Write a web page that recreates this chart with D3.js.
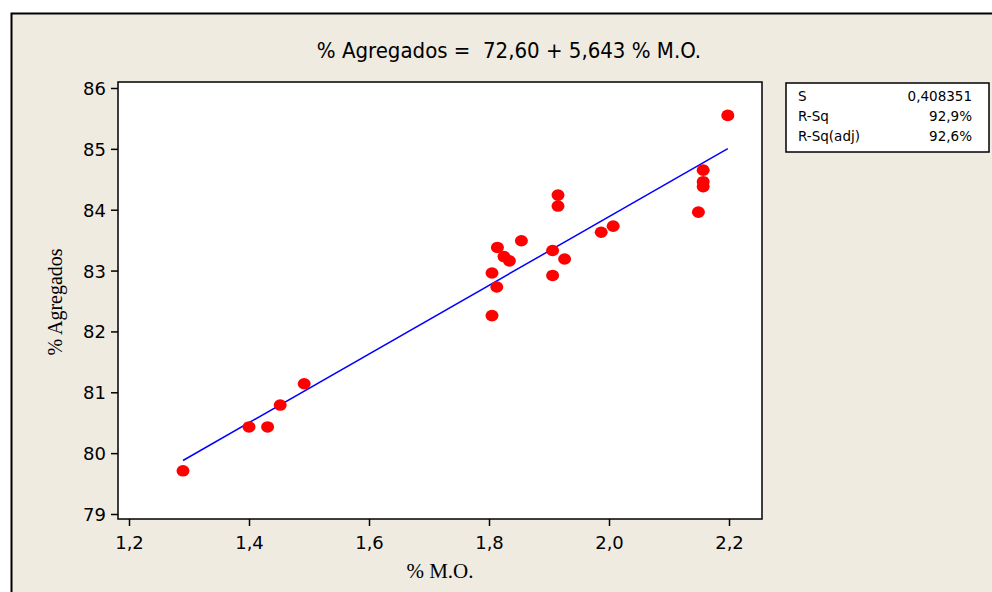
<!DOCTYPE html>
<html>
<head>
<meta charset="utf-8">
<script src="https://cdn.jsdelivr.net/npm/d3@7"></script>
<style>
  body { margin: 0; background: #fff; }
  svg { display: block; }
</style>
</head>
<body>
<div id="draw"></div>
<script>
// % M.O. vs % Agregados
var moValues = [1.290, 1.400, 1.431, 1.452, 1.492, 1.805, 1.805, 1.813, 1.814, 1.825, 1.834, 1.854,
                1.906, 1.906, 1.915, 1.915, 1.926, 1.987, 2.007, 2.149, 2.157, 2.157, 2.157, 2.198];
var agrValues = [79.71, 80.43, 80.43, 80.79, 81.14, 82.26, 82.96, 82.73, 83.38, 83.23, 83.16, 83.49,
                 82.92, 83.33, 84.06, 84.24, 83.19, 83.63, 83.73, 83.96, 84.38, 84.46, 84.65, 85.55];
var xTicks = [1.2, 1.4, 1.6, 1.8, 2.0, 2.2];
var yTicks = [79, 80, 81, 82, 83, 84, 85, 86];
var fitCoef = [72.60, 5.643];
var statLabels = ['S', 'R-Sq', 'R-Sq(adj)'];
var statValues = ['0,408351', '92,9%', '92,6%'];

(function () {
    "use strict";
    var width = 992, height = 592;
    var plot = {left: 118, right: 762, top: 82, bottom: 519};
    var comma = function (v) { return d3.format('.1f')(v).replace('.', ','); };

    var svg = d3.select('#draw').append('svg')
        .attr('width', width).attr('height', height);

    // outer frame
    svg.append('rect')
        .attr('x', 11.5).attr('y', 13.5)
        .attr('width', 1000).attr('height', 600)
        .attr('fill', '#efebe1')
        .attr('stroke', '#000').attr('stroke-width', 2);

    var x = d3.scaleLinear().domain([1.2, 2.2]).range([129, 729]);
    var y = d3.scaleLinear().domain([79, 86]).range([514, 88]);

    // plot area
    svg.append('rect')
        .attr('x', plot.left).attr('y', plot.top)
        .attr('width', plot.right - plot.left).attr('height', plot.bottom - plot.top)
        .attr('fill', '#fff').attr('stroke', '#000').attr('stroke-width', 1.5);

    var xAxis = svg.append('g')
        .attr('transform', 'translate(0,' + plot.bottom + ')')
        .call(d3.axisBottom(x).tickValues(xTicks).tickFormat(comma).tickSize(7).tickSizeOuter(0));
    var yAxis = svg.append('g')
        .attr('transform', 'translate(' + plot.left + ',0)')
        .call(d3.axisLeft(y).tickValues(yTicks).tickFormat(d3.format('d')).tickSize(7).tickSizeOuter(0));

    [xAxis, yAxis].forEach(function (g) {
        g.select('.domain').remove();
        g.selectAll('line').attr('stroke', '#000').attr('stroke-width', 1.5);
        g.selectAll('text')
            .attr('fill', '#000')
            .style('font-family', '"DejaVu Sans", Verdana, sans-serif')
            .style('font-size', '18px');
    });
    xAxis.selectAll('text').attr('dy', '1em').attr('y', 12);
    yAxis.selectAll('text').attr('x', -12).attr('dy', '0.36em');

    // fitted line
    var xr = d3.extent(moValues);
    svg.append('line')
        .attr('x1', x(xr[0])).attr('y1', y(fitCoef[0] + fitCoef[1] * xr[0]))
        .attr('x2', x(xr[1])).attr('y2', y(fitCoef[0] + fitCoef[1] * xr[1]))
        .attr('stroke', '#0000ff').attr('stroke-width', 1.5);

    // points
    svg.append('g').selectAll('ellipse')
        .data(moValues.map(function (d, i) { return [d, agrValues[i]]; }))
        .join('ellipse')
        .attr('cx', function (d) { return x(d[0]); })
        .attr('cy', function (d) { return y(d[1]); })
        .attr('rx', 6.5).attr('ry', 5.8)
        .attr('fill', '#ff0000');

    // title
    svg.append('text')
        .attr('x', 509).attr('y', 58)
        .attr('text-anchor', 'middle')
        .style('font-family', '"DejaVu Sans Condensed", Tahoma, sans-serif')
        .style('font-size', '22px')
        .style('white-space', 'pre')
        .text('% Agregados =  72,60 + 5,643 % M.O.');

    // axis titles
    svg.append('text')
        .attr('x', 440).attr('y', 578)
        .attr('text-anchor', 'middle')
        .style('font-family', '"Liberation Serif", "Times New Roman", serif')
        .style('font-size', '21px')
        .text('% M.O.');
    svg.append('text')
        .attr('transform', 'translate(62,302) rotate(-90)')
        .attr('text-anchor', 'middle')
        .style('font-family', '"Liberation Serif", "Times New Roman", serif')
        .style('font-size', '20px')
        .text('% Agregados');

    // stats box
    var box = svg.append('g').attr('transform', 'translate(786,83)');
    box.append('rect')
        .attr('width', 203).attr('height', 69)
        .attr('fill', '#fff').attr('stroke', '#000').attr('stroke-width', 1.5);
    statLabels.forEach(function (d, i) {
        box.append('text')
            .attr('x', 12).attr('y', 18 + i * 20)
            .style('font-family', '"DejaVu Sans", Verdana, sans-serif')
            .style('font-size', '13.5px')
            .text(d);
        box.append('text')
            .attr('x', 186).attr('y', 18 + i * 20)
            .attr('text-anchor', 'end')
            .style('font-family', '"DejaVu Sans", Verdana, sans-serif')
            .style('font-size', '13.5px')
            .text(statValues[i]);
    });
}());
</script>
</body>
</html>
